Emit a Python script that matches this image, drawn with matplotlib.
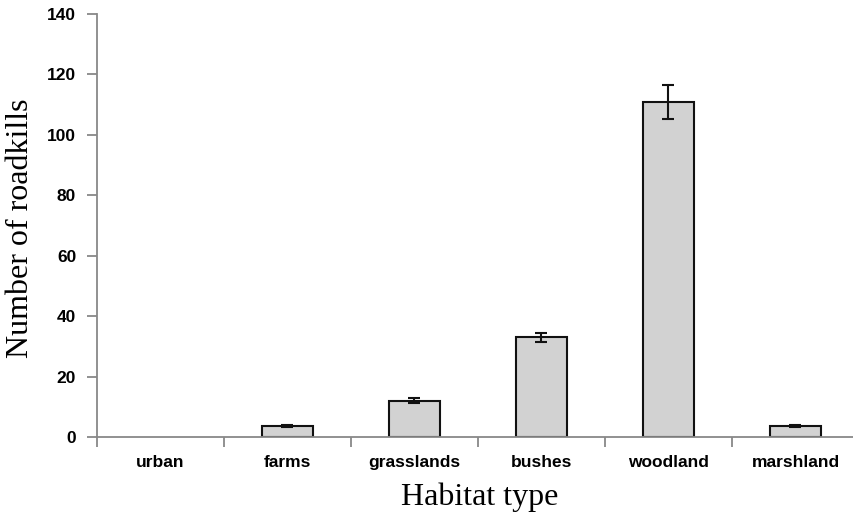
import matplotlib.pyplot as plt
import numpy as np

habitats = ['urban', 'farms', 'grasslands', 'bushes', 'woodland', 'marshland']
roadkills = [0, 3.6, 12, 33, 111, 3.6]
errors = [0, 0.3, 0.8, 1.5, 5.6, 0.3]

fig = plt.figure(figsize=(8.54, 5.15), dpi=100)
ax = fig.add_axes([97/854, 78/515, 762/854, 423/515])

x = np.arange(len(habitats))
# zero-height bar (urban) gets no outline
edge_w = [0 if v == 0 else 1.5 for v in roadkills]
ax.bar(x, roadkills, width=0.4, color='#d2d2d2', edgecolor='#111111', linewidth=edge_w, zorder=2)
ax.errorbar(x[1:], roadkills[1:], yerr=errors[1:], fmt='none', ecolor='#111111',
            elinewidth=1.5, capsize=4.5, capthick=1.5, zorder=3)

ax.set_xlim(-0.5, len(habitats) - 0.5)
ax.set_ylim(0, 140)
ax.set_yticks(range(0, 141, 20))

# category labels in the middle, tick marks between categories
ax.set_xticks(x)
ax.set_xticklabels(habitats)
ax.set_xticks(np.arange(-0.5, len(habitats)), minor=True)
ax.tick_params(axis='x', which='major', length=0, pad=13)
ax.tick_params(axis='x', which='minor', length=7, width=1.3, color='#888888', direction='out')
ax.tick_params(axis='y', length=7, width=1.3, color='#888888', direction='out', pad=8)

for lab in ax.get_xticklabels() + ax.get_yticklabels():
    lab.set_fontfamily('Liberation Sans')
    lab.set_fontweight('bold')
    lab.set_fontsize(12.5)

for side in ['top', 'right']:
    ax.spines[side].set_visible(False)
for side in ['left', 'bottom']:
    ax.spines[side].set_color('#888888')
    ax.spines[side].set_linewidth(1.3)

fig.text(480/854, 1 - 497/515, 'Habitat type', family='Liberation Serif',
         fontsize=23, ha='center', va='center')
fig.text(21/854, 1 - 228/515, 'Number of roadkills', family='Liberation Serif',
         fontsize=23, ha='center', va='center', rotation=90)

fig.savefig('out.png', dpi=100)
